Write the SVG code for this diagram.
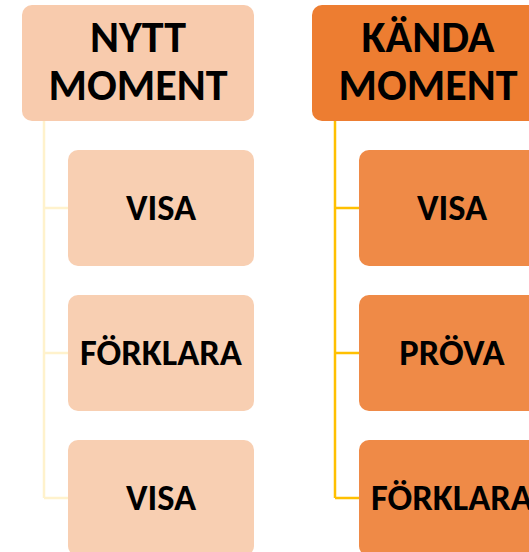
<svg xmlns="http://www.w3.org/2000/svg" width="529" height="552" viewBox="0 0 529 552">
<style>
.t{font-family:Calibri,Carlito,"Liberation Sans",Arial,sans-serif;font-weight:bold;fill:#000;text-anchor:middle}
.h{font-size:44px}
.c{font-size:36.5px}
.lp{fill:#F8CBAD}
.lc{fill:#F8CFB2}
.rp{fill:#ED7D31}
.rc{fill:#EF8A47}
.cl{fill:none;stroke:#FFF2CC;stroke-width:2.5}
.cr{fill:none;stroke:#FFC000;stroke-width:2.5}
</style>
<g id="connectors">
<path class="cl" d="M44 121V498M44 208H68M44 353H68M44 498H68"/>
<path class="cr" d="M335 121V498M335 208H359M335 353H359M335 498H359"/>
</g>
<g id="nytt-moment">
<rect class="lp" x="22" y="5" width="232" height="116" rx="10"/>
<text class="t h" x="138" y="52">NYTT</text>
<text class="t h" x="138" y="100">MOMENT</text>
</g>
<g id="nytt-visa1">
<rect class="lc" x="68" y="150" width="186" height="116" rx="10"/>
<text class="t c" x="161" y="220">VISA</text>
</g>
<g id="nytt-forklara">
<rect class="lc" x="68" y="295" width="186" height="116" rx="10"/>
<text class="t c" x="161" y="365">FÖRKLARA</text>
</g>
<g id="nytt-visa2">
<rect class="lc" x="68" y="440" width="186" height="116" rx="10"/>
<text class="t c" x="161" y="510">VISA</text>
</g>
<g id="kanda-moment">
<rect class="rp" x="312" y="5" width="232" height="116" rx="10"/>
<text class="t h" x="428" y="52">KÄNDA</text>
<text class="t h" x="428" y="100">MOMENT</text>
</g>
<g id="kanda-visa">
<rect class="rc" x="359" y="150" width="186" height="116" rx="10"/>
<text class="t c" x="452" y="220">VISA</text>
</g>
<g id="kanda-prova">
<rect class="rc" x="359" y="295" width="186" height="116" rx="10"/>
<text class="t c" x="452" y="365">PRÖVA</text>
</g>
<g id="kanda-forklara">
<rect class="rc" x="359" y="440" width="186" height="116" rx="10"/>
<text class="t c" x="452" y="510">FÖRKLARA</text>
</g>
</svg>
